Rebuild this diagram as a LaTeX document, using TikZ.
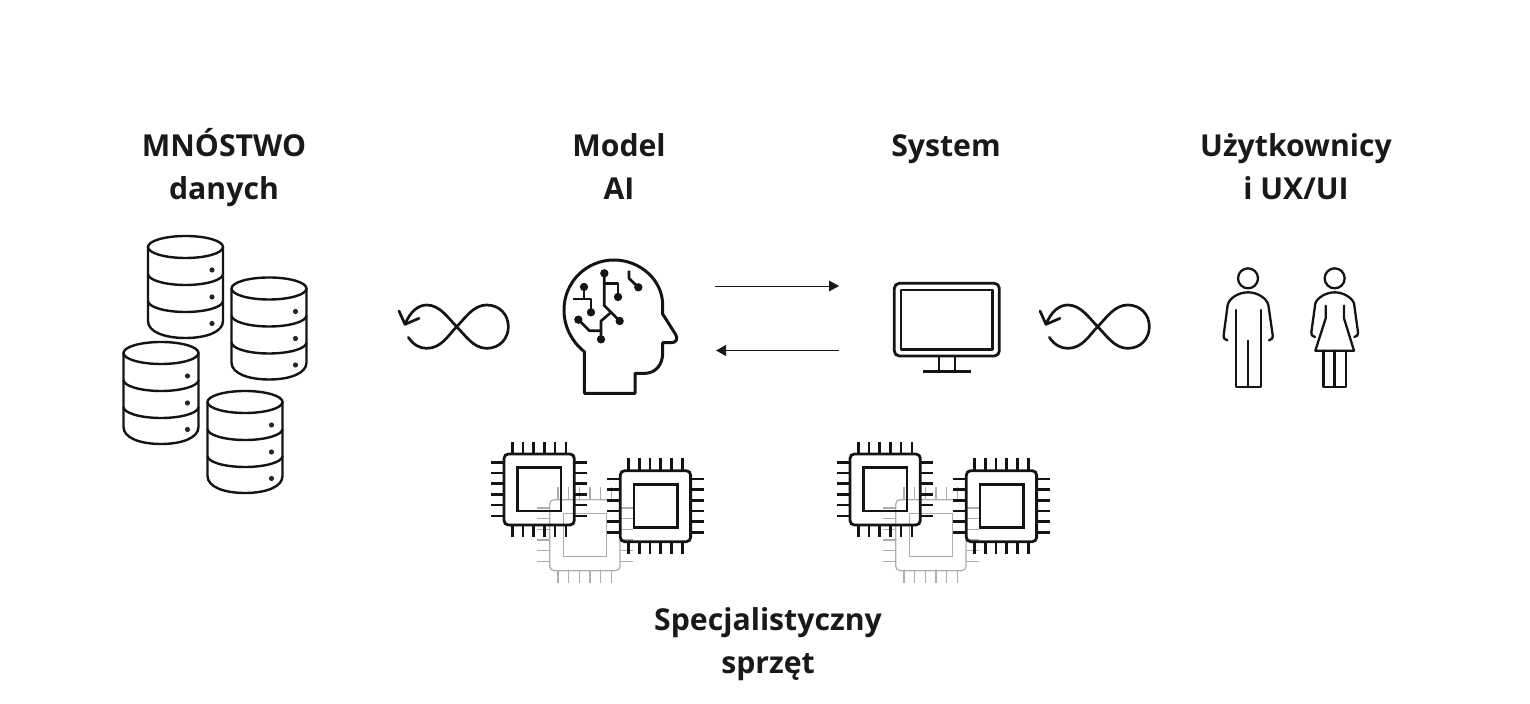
\documentclass[tikz,border=0pt]{standalone}
\usepackage{fontspec}
\setmainfont{Open Sans}
\usetikzlibrary{arrows.meta}
\newcommand{\bandarc}[1]{(-37.5,#1) .. controls (-37.5,#1+6) and (-20.6,#1+11) .. (0,#1+11) .. controls (20.6,#1+11) and (37.5,#1+6) .. (37.5,#1)}
\tikzset{
  x=0.5pt,y=-0.5pt,
  label text/.style={font=\bfseries\fontsize{15.1}{21.5}\selectfont,align=center,text=black!90,inner sep=0pt},
  icon line/.style={line width=1.3pt,line join=round,color=black!92},
  chip dark/.style={line width=1.4pt,color=black!92},
  chip grey/.style={line width=0.6pt,color=black!32},
  flow arrow/.style={-{Triangle[length=5pt,width=5.4pt]},color=black!90},
  dbicon/.pic={
    \draw[icon line,line width=1.2pt] (0,0) ellipse [x radius=37.5,y radius=11];
    \draw[icon line,line width=1.2pt] (-37.5,0) -- (-37.5,74) .. controls (-37.5,85) and (-20.6,91) .. (0,91) .. controls (20.6,91) and (37.5,85) .. (37.5,74) -- (37.5,0);
    \draw[icon line,line width=1.2pt] \bandarc{27} \bandarc{54};
    \foreach \dy in {23,50,76.5} \fill[black!85] (26.5,\dy) circle [radius=2.6];
  },
  chipicon/.pic={
    \draw[rounded corners=2.2pt] (72,72) rectangle (283,285);
    \draw (113,113) rectangle (243,243);
    \foreach \p in {97,129,161,193,225,258}{
      \draw (\p,35) -- (\p,72);
      \draw (\p,285) -- (\p,322);
      \draw (33,\p) -- (72,\p);
      \draw (283,\p) -- (322,\p);
    }
  },
  loopicon/.pic={
    \draw[line width=1.35pt,line cap=round,color=black!92] (70,142) .. controls (85,165) and (105,175) .. (125,175)
      .. controls (170,175) and (190,135) .. (215,110)
      .. controls (240,85) and (265,45) .. (305,45)
      .. controls (345,45) and (370,75) .. (370,110)
      .. controls (370,145) and (345,175) .. (305,175)
      .. controls (265,175) and (240,135) .. (215,110)
      .. controls (190,85) and (165,45) .. (125,45)
      .. controls (100,45) and (75,65) .. (60,103);
    \draw[line width=1.35pt,line cap=round,line join=round,color=black!92] (42,63) -- (60,103) -- (102,85);
  }
}
\begin{document}
\begin{tikzpicture}
\useasboundingbox (0,0) rectangle (1530,704);
\fill[white] (0,0) rectangle (1530,704);

% labels
\node[label text] (lbldata) at (224,168) {MNÓSTWO\\danych};
\node[label text] (lblmodel) at (619,167) {Model\\AI};
\node[label text] (lblsystem) at (946,149) {System};
\node[label text] (lblusers) at (1296,167) {Użytkownicy\\i UX/UI};
\node[label text] (lblhw) at (768,644) {Specjalistyczny\\sprzęt};

% databases
\pic at (185.5,247) {dbicon};
\pic at (269,288.5) {dbicon};
\pic at (161,353) {dbicon};
\pic at (245,402) {dbicon};

% loops
\pic[scale=1/3] at (385,290) {loopicon};
\pic[scale=1/3] at (1026,290) {loopicon};

% head
\begin{scope}[shift={(540,240)},scale=1/3]
  \draw[icon line,line width=1.5pt] (133,460) -- (133,335)
    .. controls (95,305) and (72,260) .. (72,210)
    .. controls (72,125) and (140,60) .. (222,60)
    .. controls (300,60) and (368,120) .. (368,195)
    -- (368,222) -- (406,282)
    .. controls (416,296) and (408,308) .. (395,308)
    -- (368,308) -- (368,340)
    .. controls (368,375) and (345,400) .. (315,400)
    -- (285,400) -- (285,460) -- cycle;
  \begin{scope}[line width=1.35pt,line join=round,color=black!92]
    \draw (193,100) -- (193,197) -- (239,243);
    \draw (193,130) -- (234,130) -- (234,171);
    \draw (132,141) -- (132,177);
    \draw (100,177) -- (153,177) -- (153,217);
    \draw (267,92) -- (267,115) -- (295,142);
    \draw (115,239) -- (148,272) -- (183,272);
    \draw (183,298) -- (183,243) -- (212,218);
    \foreach \c in {(193,100),(234,171),(132,141),(153,217),(295,142),(239,243),(115,239),(183,298)}
      \fill[black!92] \c circle [radius=12.5];
  \end{scope}
\end{scope}

% flow arrows
\coordinate (mout) at (715,286);
\coordinate (sin) at (839,286);
\coordinate (sout) at (839,350.5);
\coordinate (min) at (716,350.5);
\draw[flow arrow,line width=0.4pt] (mout) -- (sin);
\draw[flow arrow,line width=0.7pt] (sout) -- (min);

% monitor
\begin{scope}[shift={(700,270)},scale=1/3,icon line,line width=1.4pt]
  \draw[rounded corners=2.5pt] (583,40) rectangle (898,258);
  \draw (603,60) rectangle (878,238);
  \draw (717,258) -- (717,305) (765,258) -- (765,305) (670,305) -- (812,305);
\end{scope}

% people
\begin{scope}[shift={(1200,255)},scale=1/3,line width=1.15pt,line join=round,line cap=round,color=black!92]
  \draw (144,70) circle [radius=30];
  \draw (82,256) .. controls (74,254) and (70,250) .. (71,240) -- (83,150) .. controls (87,130) and (115,112) .. (144,112) .. controls (173,112) and (200,130) .. (205,150) -- (218,240) .. controls (219,250) and (215,254) .. (207,256);
  \draw (108,165) -- (108,397) -- (182,397) -- (182,165);
  \draw (144,257) -- (144,397);
  \draw (404,70) circle [radius=30];
  \draw (345,246) .. controls (336,244) and (333,240) .. (334,232) -- (346,145) .. controls (352,128) and (378,112) .. (404,112) .. controls (430,112) and (456,128) .. (462,145) -- (474,232) .. controls (475,240) and (472,244) .. (463,246);
  \draw (377,152) -- (377,190) -- (346,287) -- (462,287) -- (432,190) -- (432,152);
  \draw (370,287) -- (370,395) -- (437,395) -- (437,287);
  \draw (403,287) -- (403,395);
\end{scope}

% chips
\foreach \dx in {0,346}{
  \pic[chip grey,scale=1/3] at (525.7+\dx,475.7) {chipicon};
  \pic[chip dark,scale=1/3] at (480+\dx,430) {chipicon};
  \pic[chip dark,scale=1/3] at (596.3+\dx,446.7) {chipicon};
}
\end{tikzpicture}
\end{document}
